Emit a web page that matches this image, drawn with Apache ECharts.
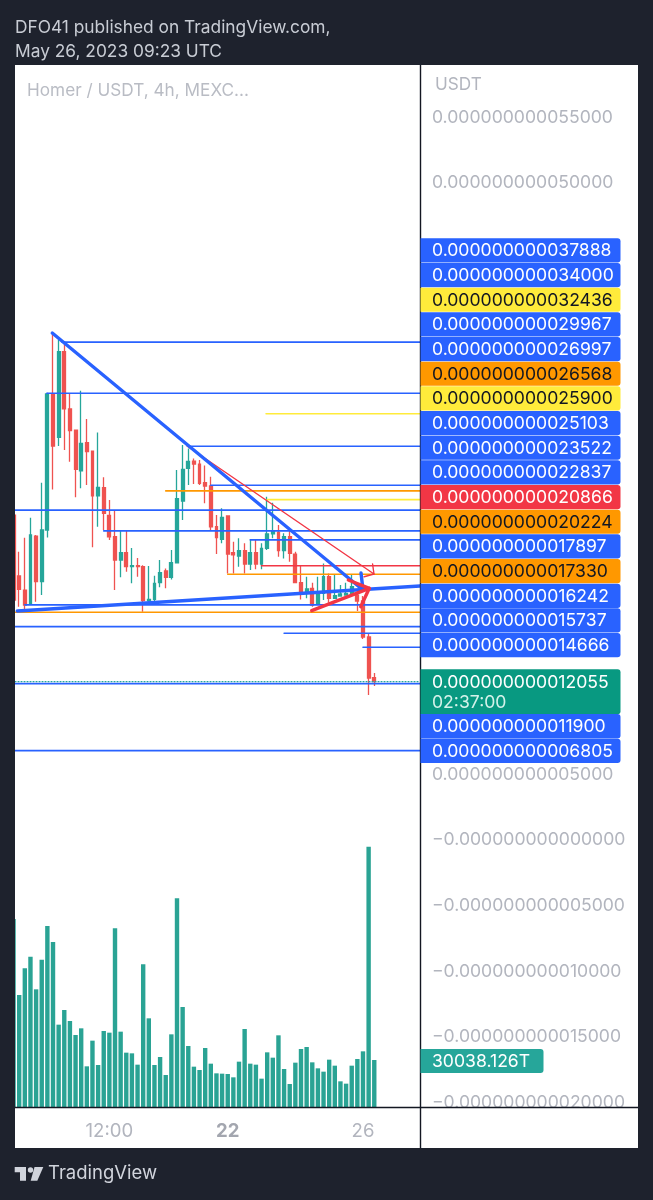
<!DOCTYPE html>
<html>
<head>
<meta charset="utf-8">
<style>html,body{margin:0;padding:0;background:#1e222d}#c{width:653px;height:1200px}</style>
<script src="https://cdn.jsdelivr.net/npm/echarts@6/dist/echarts.min.js"></script>
</head>
<body>
<div id="c"></div>
<script>
// All prices are in units of 1e-15 USDT.  OHLC order for ECharts: open, close, low, high
const candles = [
[24730,18260,18000,24730],[20090,19070,17750,21940],[19020,17880,17500,23010],[17960,23210,17880,24530],
[23130,19660,18130,23210],[19660,23590,18640,27190],[23590,33940,23030,34040],[33940,29980,26680,38510],
[30640,37160,29980,38050],[37160,32820,29680,37920],[32800,31150,28790,33990],[31200,28210,26080,31200],
[28100,30190,26760,34190],[30240,29550,27010,32040],[29600,26200,22270,29600],[26200,26840,23840,31020],
[26810,24860,23590,27600],[24700,23080,22830,25870],[23080,21310,19020,25060],[21310,21860,19990,23540],
[21860,20800,20420,23540],[20800,20880,19530,22220],[20880,20800,20040,21460],[20800,18210,17370,20900],
[18210,18310,18010,20850],[18310,19530,18010,20110],[19580,20340,19230,21310],[20470,19990,19150,20670],
[19990,21100,19830,22070],[21100,25970,21100,28160],[25800,28210,24350,30060],[28280,28820,27010,29800],
[28840,28610,27090,29040],[28610,27140,27010,28920],[27190,26940,25620,28510],[26940,23840,23590,27650],
[23840,23010,21760,24730],[22880,24550,22580,25240],[24660,21760,20290,24660],[21860,21710,20290,22700],
[21610,22020,20800,22960],[22020,21000,20290,22580],[21000,21870,20550,22880],[21870,21000,20600,22830],
[21000,22200,20600,22580],[22200,23290,22070,26130],[23290,23460,22960,25670],[23410,22020,21560,23970],
[22020,23080,21430,23340],[23080,21810,21180,23720],[21760,19580,19530,21940],[19580,18900,18310,20850],
[18900,19100,18390,20040],[19150,17880,17760,19580],[18010,18770,17960,20040],[18770,20040,18260,21050],
[20040,18390,18060,20290],[18390,18590,18390,20170],[18570,18720,18520,19400],[18640,18770,18590,19580],
[18770,19280,18770,20220],[18640,18190,17430,19070],[18190,15450,15300,18570],[15450,12330,11040,15750],
[12350,12055,11720,12710]
];
const volumes = [
120130,71570,88610,96060,75190,94150,115660,105440,52610,61980,54950,46010,50270,25990,42390,26840,
48560,47500,114170,48140,34720,34290,27050,91160,56660,26840,31950,20450,46430,133340,63900,38980,
25770,23640,37700,27690,21510,21300,21090,18960,28970,49840,27690,27050,18110,34930,31520,45800,
24280,14700,28330,37060,38340,28540,24710,22580,30250,26410,16400,14910,26410,30670,35570,166350,30038
];
const slotCount = 73;
const tickNames = {17:'12:00',38:'22',62:'26'};
const yTicks = [55000,50000,5000,0,-5000,-10000,-15000,-20000];

// horizontal levels: [price, first bar, colour key]
const levels = [
[37888,8.6,'blue'],[34000,5.9,'blue'],[32436,44.8,'yellow'],[29967,31,'blue'],[26997,35,'blue'],
[26568,27,'orange'],[25900,45,'yellow'],[25103,0,'blue'],[23522,16,'blue'],[22837,42,'blue'],
[20866,44,'red'],[20224,38,'orange'],[17897,2,'blue'],[17330,0,'orange'],[16242,0,'blue'],
[15737,48,'blue'],[14666,62,'blue']
];
const lowerLevels = [[11900,0,'blue'],[6805,0,'blue']];
const lastPrice = 12055, countdown = '02:37:00', lastVolume = '30038.126T';

// drawings: [[bar, price], ...]
const blueTrendDown = [[6.87,38583],[62,19025]];
const blueHook = [[61.65,20319],[62,19025]];
const blueTrendUp = [[0.66,17427],[72.1,19329]];
const redThin = [[30.77,29983],[63.95,20243]];
const redThinHeadA = [[62.2,20037],[63.95,20243],[63.7,21004]];
const redThick = [[52.9,17450],[63.12,19154]];
const redThickHead = [[59.4,19786],[63.12,19154],[61.6,17754]];

const colors = {blue:'#2962ff',yellow:'#ffeb3b',orange:'#ff9800',red:'#f23645'};
const FONT = 'Inter, "Noto Sans", sans-serif';
const fmt = v => (v<0?'\u2212':'') + '0.' + String(Math.abs(v)).padStart(15,'0');
const fmtAxis = v => (v<=0?'\u2212':'') + '0.' + String(Math.abs(v)).padStart(15,'0');
const lastBar = 72.1;
const NUM = 17.6;

const lineSeries = (pts,color,width,type) => ({
  type:'line',xAxisIndex:1,yAxisIndex:0,data:pts,showSymbol:false,silent:true,animation:false,z:3,
  lineStyle:{color:color,width:width,type:type||'solid',cap:'round'}
});

const series = [
 {type:'bar',xAxisIndex:0,yAxisIndex:1,data:volumes,barWidth:4.4,itemStyle:{color:'#2aa394'},silent:true,animation:false,z:2},
 {type:'candlestick',xAxisIndex:0,yAxisIndex:0,data:candles,barWidth:3.4,silent:true,animation:false,z:2,
  itemStyle:{color:'#26a69a',color0:'#ef5350',borderColor:'#26a69a',borderColor0:'#ef5350',borderWidth:1.3}}
];
levels.concat(lowerLevels).forEach(l=>{
  series.push(lineSeries([[Math.max(l[1],0.26),l[0]],[lastBar,l[0]]],colors[l[2]],1.6));
});
series.push(lineSeries([[0.26,lastPrice],[lastBar,lastPrice]],'#26a69a',1.2,[1,2]));
series.push(lineSeries(redThin,'#f23645',1.4));
series.push(lineSeries(redThinHeadA,'#f23645',1.4));
series.push(lineSeries(blueTrendDown,'#2962ff',3.4));
series.push(lineSeries(blueHook,'#2962ff',3.4));
series.push(lineSeries(blueTrendUp,'#2962ff',3.4));
series.push(lineSeries(redThick,'#f23645',3.4));
series.push(lineSeries(redThickHead,'#f23645',3.4));

const txt = (text,x,y,fill,size,weight) => ({type:'text',z:12,silent:true,
  style:{text:text,x:x,y:y,fill:fill,font:(weight||'400')+' '+size+'px '+FONT,textVerticalAlign:'middle',textAlign:'left'}});
const badge = (top,h,fill,text,textFill,w) => [
  {type:'rect',z:10,silent:true,shape:{x:420.5,y:top,width:w||200,height:h,r:[0,3,3,0]},style:{fill:fill}},
  txt(text,432,top+h/2+0.5,textFill,NUM)
];

const g = [
 {type:'rect',z:0,silent:true,shape:{x:15,y:65,width:623,height:1083},style:{fill:'#ffffff'}},
 {type:'rect',z:100,silent:true,shape:{x:0,y:65,width:15,height:1083},style:{fill:'#1e222d'}},
 {type:'line',z:9,silent:true,shape:{x1:420.5,y1:65,x2:420.5,y2:1148},style:{stroke:'#131722',lineWidth:1.4}},
 {type:'line',z:9,silent:true,shape:{x1:15,y1:1107.5,x2:638,y2:1107.5},style:{stroke:'#131722',lineWidth:1.4}},
 txt('DFO41 published on TradingView.com,',15,27.5,'#c8ccd4',17.33),
 txt('May 26, 2023 09:23 UTC',15,51.5,'#c8ccd4',17.33),
 txt('Homer / USDT, 4h, MEXC...',27,90.5,'#b9bcc4',17.2),
 txt('USDT',435,84.5,'#b2b5be',17.2),
 txt('TradingView',48,1173.5,'#d1d4dc',18.5),
 {type:'polygon',z:12,silent:true,shape:{points:[[14.7,1167],[26,1167],[26,1180.7],[20,1180.7],[20,1172.2],[14.7,1172.2]]},style:{fill:'#d1d4dc'}},
 {type:'circle',z:12,silent:true,shape:{cx:30.5,cy:1170,r:2.7},style:{fill:'#d1d4dc'}},
 {type:'polygon',z:12,silent:true,shape:{points:[[34.5,1167],[43.3,1167],[37.3,1180.7],[30.7,1180.7]]},style:{fill:'#d1d4dc'}}
];
const pitch = 24.67, stackTop = 238.3;
levels.forEach((l,i)=>{
  const dark = l[2]==='yellow'||l[2]==='orange';
  g.push(...badge(stackTop+i*pitch,24.2,colors[l[2]],fmt(l[0]),dark?'#131722':'#ffffff'));
});
g.push({type:'rect',z:10,silent:true,shape:{x:420.5,y:669.3,width:200,height:45,r:[0,3,3,0]},style:{fill:'#089981'}});
g.push(txt(fmt(lastPrice),432,682.5,'#ffffff',NUM));
g.push(txt(countdown,432,702.5,'#d4f2ea',NUM));
lowerLevels.forEach((l,i)=>{ g.push(...badge(714+i*pitch,24.4,colors[l[2]],fmt(l[0]),'#ffffff')); });
g.push(...badge(1049,24,'#26a69a',lastVolume,'#ffffff',123));

const chart = echarts.init(document.getElementById('c'),null,{renderer:'canvas'});
chart.setOption({
  animation:false,
  backgroundColor:'#1e222d',
  grid:{left:10.74,top:65,width:411.43,height:1042,containLabel:false},
  xAxis:[
   {type:'category',data:Array.from({length:slotCount},(_,i)=>tickNames[i]||String(i)),boundaryGap:true,z:5,
    axisLine:{show:false},axisTick:{show:false},splitLine:{show:false},
    axisLabel:{interval:i=>!!tickNames[i],margin:15,fontFamily:FONT,fontSize:NUM+1,color:'#b2b5be',
      formatter:v=>v==='22'?'{b|22}':v,rich:{b:{fontFamily:FONT,fontSize:NUM+1,fontWeight:700,color:'#a3a6af'}}}},
   {type:'value',min:-0.5,max:72.5,show:false,splitLine:{show:false}}
  ],
  yAxis:[
   {type:'value',position:'right',min:-20320,max:58980,z:5,
    axisLine:{show:false},axisTick:{show:false},splitLine:{show:false},
    axisLabel:{customValues:yTicks,margin:9.8,fontFamily:FONT,fontSize:NUM,color:'#b2b5be',padding:[3,0,0,0],formatter:fmtAxis}},
   {type:'value',min:0,max:665800,show:false,splitLine:{show:false}}
  ],
  series:series,
  graphic:{elements:g}
});
</script>
</body>
</html>
